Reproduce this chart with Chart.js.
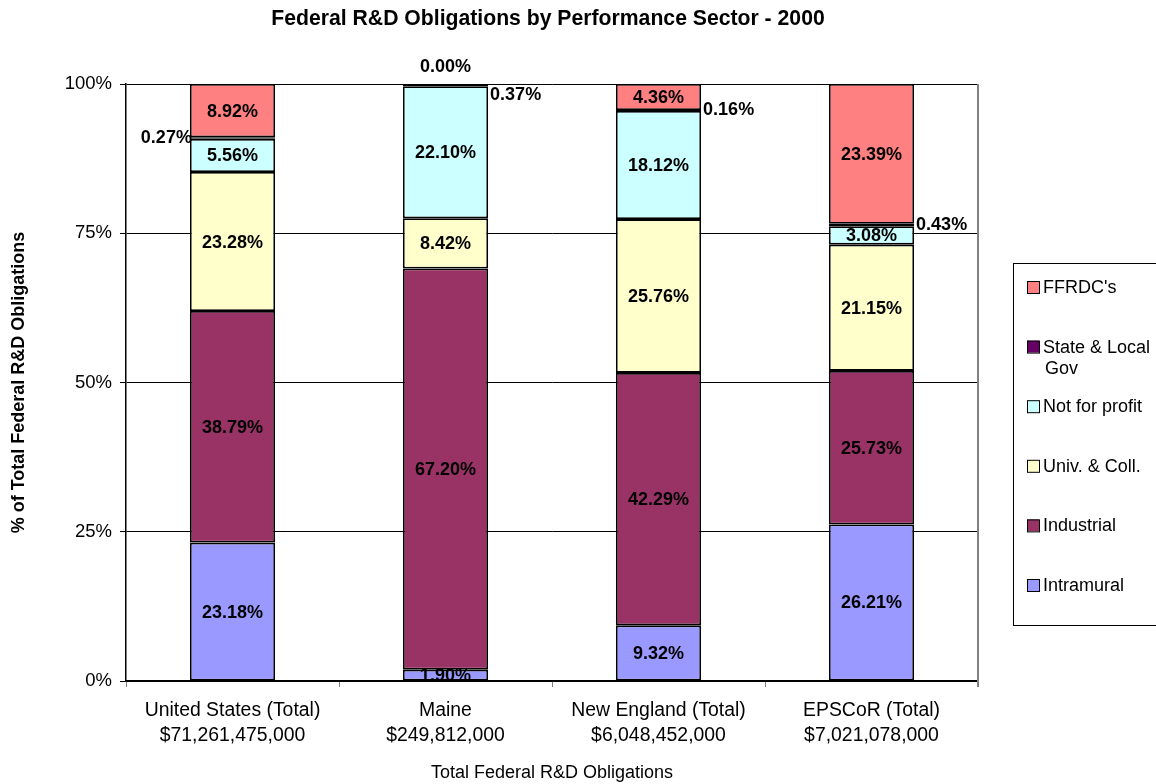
<!DOCTYPE html>
<html>
<head>
<meta charset="utf-8">
<script src="https://cdn.jsdelivr.net/npm/chart.js@4.4.0/dist/chart.umd.min.js"></script>
<style>
  html, body { margin: 0; padding: 0; background: #fff; }
  #wrap { width: 1156px; height: 784px; }
</style>
</head>
<body>
<div id="wrap"><canvas id="chart" width="1156" height="784"></canvas></div>
<script>
const chartTitle = "Federal R&D Obligations by Performance Sector - 2000";
const regions = ["United States (Total)", "Maine", "New England (Total)", "EPSCoR (Total)"];
const totals = ["$71,261,475,000", "$249,812,000", "$6,048,452,000", "$7,021,078,000"];

// percent shares, bottom segment first
const intramural = [23.18, 1.90, 9.32, 26.21];
const industrial = [38.79, 67.20, 42.29, 25.73];
const univColl = [23.28, 8.42, 25.76, 21.15];
const notForProfit = [5.56, 22.10, 18.12, 3.08];
const stateLocal = [0.27, 0.37, 0.16, 0.43];
const ffrdc = [8.92, 0.00, 4.36, 23.39];

const yTicks = [0, 25, 50, 75, 100];

const FONT = "Arial, 'Liberation Sans', sans-serif";

const datasets = [
  { label: "Intramural", data: intramural, backgroundColor: "#9999FF" },
  { label: "Industrial", data: industrial, backgroundColor: "#993366" },
  { label: "Univ. & Coll.", data: univColl, backgroundColor: "#FFFFCC" },
  { label: "Not for profit", data: notForProfit, backgroundColor: "#CCFFFF" },
  { label: "State & Local\nGov", data: stateLocal, backgroundColor: "#660066" },
  { label: "FFRDC's", data: ffrdc, backgroundColor: "#FF8080" },
].map((d) => ({ ...d, borderColor: "#000", borderWidth: 1.8, borderSkipped: false }));

// where the labels of the thin segments go
const thinLabelSide = { 0: "left", 1: "right", 2: "right", 3: "right" };

const labelPlugin = {
  id: "segmentLabels",
  afterDatasetsDraw(chart) {
    const ctx = chart.ctx;
    ctx.save();
    ctx.font = "bold 18px " + FONT;
    ctx.fillStyle = "#000";
    ctx.textBaseline = "middle";
    chart.data.datasets.forEach((ds, di) => {
      const meta = chart.getDatasetMeta(di);
      meta.data.forEach((bar, i) => {
        const v = ds.data[i];
        const txt = v.toFixed(2) + "%";
        const half = bar.width / 2;
        const cy = (bar.y + bar.base) / 2;
        if (v === 0) {
          ctx.textAlign = "center";
          ctx.fillText(txt, bar.x, bar.y - 17);
        } else if (v < 1) {
          const side = thinLabelSide[i];
          if (side === "left") {
            ctx.textAlign = "right";
            ctx.fillText(txt, bar.x - half + 2, cy);
          } else {
            ctx.textAlign = "left";
            ctx.fillText(txt, bar.x + half + 2, cy + (ffrdc[i] === 0 ? 10 : 0));
          }
        } else {
          ctx.save();
          ctx.beginPath();
          const a = chart.chartArea;
          ctx.rect(a.left, a.top - 30, a.right - a.left, a.bottom - a.top + 30);
          ctx.clip();
          ctx.textAlign = "center";
          ctx.fillText(txt, bar.x, cy + 1);
          ctx.restore();
        }
      });
    });
    ctx.restore();
  },
};

const framePlugin = {
  id: "frame",
  afterDraw(chart) {
    const ctx = chart.ctx;
    const a = chart.chartArea;
    ctx.save();
    // title, centered on the plot area
    ctx.font = "bold 21.2px " + FONT;
    ctx.fillStyle = "#000";
    ctx.textAlign = "center";
    ctx.textBaseline = "middle";
    ctx.fillText(chartTitle, 548, 19);
    // right border of plot area
    ctx.strokeStyle = "#808080";
    ctx.lineWidth = 2;
    ctx.beginPath();
    ctx.moveTo(a.right, a.top);
    ctx.lineTo(a.right, a.bottom + 6);
    ctx.stroke();
    // legend
    const lx = 1013, ly = 263, lw = 150, lh = 362;
    ctx.strokeStyle = "#000";
    ctx.lineWidth = 1;
    ctx.strokeRect(lx + 0.5, ly + 0.5, lw, lh);
    ctx.font = "18px " + FONT;
    ctx.textAlign = "left";
    const items = chart.data.datasets.slice().reverse();
    items.forEach((ds, k) => {
      const y = 287 + k * 59.6;
      ctx.fillStyle = ds.backgroundColor;
      ctx.fillRect(lx + 14, y - 6, 12, 12);
      ctx.strokeStyle = "#000";
      ctx.strokeRect(lx + 14.5, y - 5.5, 12, 12);
      ctx.fillStyle = "#000";
      ds.label.split("\n").forEach((line, j) => {
        ctx.fillText(line, lx + 30 + (j > 0 ? 2 : 0), y + 1 + j * 21);
      });
    });
    ctx.restore();
  },
};

new Chart(document.getElementById("chart"), {
  type: "bar",
  data: {
    labels: regions.map((r, i) => [r, totals[i]]),
    datasets: datasets,
  },
  options: {
    responsive: false,
    animation: false,
    layout: { padding: { left: 8, top: 84, right: 178, bottom: 0 } },
    datasets: { bar: { categoryPercentage: 1, barPercentage: 0.4 } },
    plugins: {
      legend: { display: false },
      title: { display: false },
      tooltip: { enabled: false },
    },
    scales: {
      x: {
        stacked: true,
        offset: true,
        afterFit: (s) => { s.height = 103; },
        grid: {
          offset: true,
          drawOnChartArea: false,
          drawTicks: true,
          tickLength: 6,
          color: "#808080",
          lineWidth: 1,
        },
        border: { color: "#000", width: 1.5 },
        ticks: {
          color: "#000",
          padding: 11,
          maxRotation: 0,
          font: { family: FONT, size: 19.4, lineHeight: 1.3 },
        },
        title: {
          display: true,
          text: "Total Federal R&D Obligations",
          color: "#000",
          font: { family: FONT, size: 18 },
          padding: { top: 0, bottom: 0 },
        },
      },
      y: {
        stacked: true,
        min: 0,
        max: 100,
        afterFit: (s) => { s.width = 118; },
        afterBuildTicks: (s) => { s.ticks = yTicks.map((v) => ({ value: v })); },
        grid: {
          color: "#000",
          lineWidth: 1,
          drawTicks: true,
          tickLength: 6,
        },
        border: { color: "#000", width: 1.5 },
        ticks: {
          color: "#000",
          padding: 8,
          font: { family: FONT, size: 18.5 },
          callback: (v) => v + "%",
        },
        title: {
          display: true,
          text: "% of Total Federal R&D Obligations",
          color: "#000",
          font: { family: FONT, size: 18, weight: "bold" },
          padding: { top: 0, bottom: 0 },
        },
      },
    },
  },
  plugins: [labelPlugin, framePlugin],
});
</script>
</body>
</html>
